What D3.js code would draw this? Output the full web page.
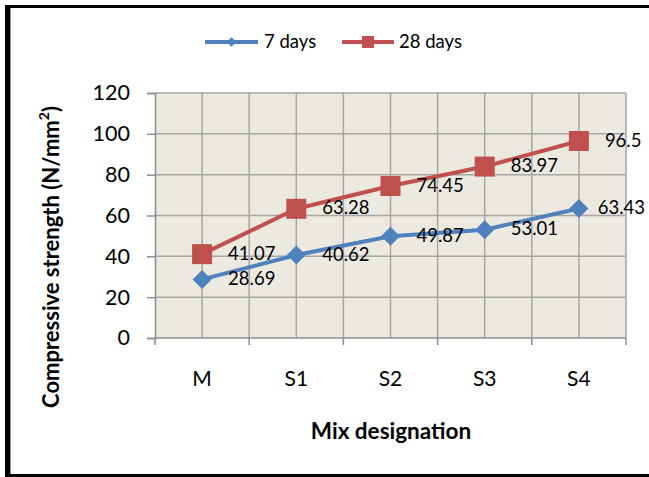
<!DOCTYPE html>
<html>
<head>
<meta charset="utf-8">
<script src="https://cdn.jsdelivr.net/npm/d3@7"></script>
<style>
  html, body { margin: 0; padding: 0; background: #fff; }
  svg { display: block; font-family: Lato, "Open Sans", sans-serif; }
</style>
</head>
<body>
<svg id="chart" width="649" height="477"></svg>
<script>
// Mix designations and compressive strengths (N/mm²)
const categories = ["M", "S1", "S2", "S3", "S4"];
const days7 = [28.69, 40.62, 49.87, 53.01, 63.43];
const days28 = [41.07, 63.28, 74.45, 83.97, 96.5];
const yTicks = [0, 20, 40, 60, 80, 100, 120];
const seriesNames = ["7 days", "28 days"];

const svg = d3.select("#chart");
const W = 649, H = 477;

// outer frame
svg.append("rect").attr("x", 5).attr("y", 5).attr("width", W - 5).attr("height", 3).attr("fill", "#000");
svg.append("rect").attr("x", 5).attr("y", 5).attr("width", 5).attr("height", H - 5).attr("fill", "#000");
svg.append("rect").attr("x", 10).attr("y", 8).attr("width", 1).attr("height", H - 8).attr("fill", "#999");
svg.append("rect").attr("x", 5).attr("y", 474).attr("width", W - 5).attr("height", 3).attr("fill", "#000");

const plot = { left: 155, right: 626, top: 93, bottom: 338 };

const x = d3.scaleBand().domain(categories).range([plot.left, plot.right]).paddingInner(0).paddingOuter(0);
const y = d3.scaleLinear().domain([0, 120]).range([plot.bottom, plot.top]);
const cx = c => x(c) + x.bandwidth() / 2;

// plot background
svg.append("rect")
  .attr("x", plot.left).attr("y", plot.top)
  .attr("width", plot.right - plot.left).attr("height", plot.bottom - plot.top)
  .attr("fill", "#ECE9E0");

const gridColor = "#A6A6A6";
// horizontal gridlines
svg.append("g").selectAll("line").data(yTicks.slice(1)).join("line")
  .attr("x1", plot.left).attr("x2", plot.right)
  .attr("y1", d => y(d)).attr("y2", d => y(d))
  .attr("stroke", gridColor).attr("stroke-width", 1.5);

// vertical gridlines at band edges and centres
const vLines = [];
categories.forEach(c => { vLines.push(x(c)); vLines.push(cx(c)); });
vLines.push(plot.right);
svg.append("g").selectAll("line").data(vLines.slice(1)).join("line")
  .attr("x1", d => d).attr("x2", d => d)
  .attr("y1", plot.top).attr("y2", plot.bottom)
  .attr("stroke", gridColor).attr("stroke-width", 1.5);

// y axis
const yAxis = svg.append("g").attr("transform", `translate(${plot.left},0)`)
  .call(d3.axisLeft(y).tickValues(yTicks).tickSize(8).tickPadding(17));
yAxis.select(".domain").attr("stroke", "#8C8C8C").attr("stroke-width", 1.5);
yAxis.selectAll(".tick line").attr("stroke", "#8C8C8C").attr("stroke-width", 1.5);
yAxis.selectAll(".tick text").attr("font-size", 21.5).attr("fill", "#000")
  .attr("font-family", "Lato, sans-serif");

// x axis with ticks at band edges
const xAxisG = svg.append("g").attr("transform", `translate(0,${plot.bottom})`);
xAxisG.append("line").attr("x1", plot.left).attr("x2", plot.right)
  .attr("stroke", "#8C8C8C").attr("stroke-width", 1.5);
const edges = categories.map(c => x(c)).concat([plot.right]);
xAxisG.selectAll("line.tk").data(edges).join("line").attr("class", "tk")
  .attr("x1", d => d).attr("x2", d => d).attr("y1", 0).attr("y2", 7)
  .attr("stroke", "#8C8C8C").attr("stroke-width", 1.5);
xAxisG.selectAll("text").data(categories).join("text")
  .attr("x", d => cx(d)).attr("y", 43)
  .attr("text-anchor", "middle").attr("dominant-baseline", "middle")
  .attr("font-size", 21).attr("fill", "#000").text(d => d);

// axis titles
svg.append("text").attr("x", 391).attr("y", 433)
  .attr("text-anchor", "middle").attr("dominant-baseline", "middle")
  .attr("font-size", 22.5).attr("font-weight", "bold").text("Mix designation");
const yt = svg.append("text")
  .attr("transform", "translate(53,257) rotate(-90)")
  .attr("text-anchor", "middle").attr("dominant-baseline", "middle")
  .attr("font-size", 22).attr("font-weight", "bold");
yt.append("tspan").text("Compressive strength (N/mm");
yt.append("tspan").attr("dy", -8).attr("font-size", 14).text("2");
yt.append("tspan").attr("dy", 8).text(")");

const colors = ["#4F81BD", "#C0504D"];
const data = [days7, days28];

const line = d3.line().x((d, i) => cx(categories[i])).y(d => y(d));
data.forEach((vals, s) => {
  svg.append("path").datum(vals).attr("d", line)
    .attr("fill", "none").attr("stroke", colors[s]).attr("stroke-width", 4)
    .attr("stroke-linejoin", "round");
});

// markers
svg.append("g").selectAll("path").data(days7).join("path")
  .attr("d", d3.symbol().type(d3.symbolDiamond2).size(230))
  .attr("transform", (d, i) => `translate(${cx(categories[i])},${y(d)})`)
  .attr("fill", colors[0]);
svg.append("g").selectAll("rect").data(days28).join("rect")
  .attr("x", (d, i) => cx(categories[i]) - 10).attr("y", d => y(d) - 10)
  .attr("width", 20).attr("height", 20).attr("fill", colors[1]);

// value labels, kept inside the frame
data.forEach(vals => {
  svg.append("g").selectAll("text").data(vals).join("text")
    .attr("y", d => y(d) + 1)
    .attr("dominant-baseline", "middle")
    .attr("font-size", 18.5).attr("fill", "#000").text(d => d)
    .attr("x", function(d, i) {
      const w = this.getComputedTextLength();
      return Math.min(cx(categories[i]) + 26, W - 4 - w);
    });
});

// legend
const legend = [
  { x1: 205, x2: 258, tx: 264 },
  { x1: 342, x2: 394, tx: 399 }
];
const ly = 42;
legend.forEach((l, s) => {
  const g = svg.append("g");
  g.append("line").attr("x1", l.x1).attr("x2", l.x2).attr("y1", ly).attr("y2", ly)
    .attr("stroke", colors[s]).attr("stroke-width", 4);
  const m = (l.x1 + l.x2) / 2;
  if (s === 0) {
    g.append("path").attr("d", d3.symbol().type(d3.symbolDiamond2).size(60))
      .attr("transform", `translate(${m},${ly})`).attr("fill", colors[0]);
  } else {
    g.append("rect").attr("x", m - 6).attr("y", ly - 6).attr("width", 12).attr("height", 12)
      .attr("fill", colors[1]);
  }
  g.append("text").attr("x", l.tx).attr("y", ly + 1).attr("dominant-baseline", "middle")
    .attr("font-size", 18.5).attr("fill", "#000").text(seriesNames[s]);
});
</script>
</body>
</html>
